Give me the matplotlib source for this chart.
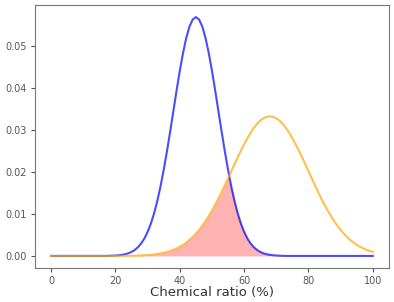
import matplotlib
matplotlib.use("Agg")
from matplotlib import pyplot as plt
import numpy as np

# chemical ratio (%) at 1 unit steps
ratio = list(range(0, 101))

# density of the first group (blue)
density_a = [
    0.0, 0.0, 0.0, 0.0, 0.0, 0.0, 0.0, 0.0, 0.0, 0.0,
    0.0, 0.0, 0.0, 0.0, 0.0, 0.0, 0.0, 0.0, 0.00003, 0.00006,
    0.00010, 0.00016, 0.00026, 0.00041, 0.00063, 0.00096, 0.00143, 0.00209, 0.00299, 0.00418,
    0.00574, 0.00771, 0.01016, 0.01311, 0.01658, 0.02055, 0.02494, 0.02967, 0.03457, 0.03948,
    0.04417, 0.04841, 0.05200, 0.05472, 0.05642, 0.05700, 0.05642, 0.05472, 0.05200, 0.04841,
    0.04417, 0.03948, 0.03457, 0.02967, 0.02494, 0.02055, 0.01658, 0.01311, 0.01016, 0.00771,
    0.00574, 0.00418, 0.00299, 0.00209, 0.00143, 0.00096, 0.00063, 0.00041, 0.00026, 0.00016,
    0.00010, 0.00006, 0.00003, 0.0, 0.0, 0.0, 0.0, 0.0, 0.0, 0.0,
    0.0, 0.0, 0.0, 0.0, 0.0, 0.0, 0.0, 0.0, 0.0, 0.0,
    0.0, 0.0, 0.0, 0.0, 0.0, 0.0, 0.0, 0.0, 0.0, 0.0,
    0.0,
]

# density of the second group (orange)
density_b = [
    0.0, 0.0, 0.0, 0.0, 0.0, 0.0, 0.0, 0.0, 0.0, 0.0,
    0.0, 0.0, 0.0, 0.0, 0.0, 0.0, 0.0, 0.0, 0.0, 0.0,
    0.00001, 0.00002, 0.00002, 0.00003, 0.00004, 0.00005, 0.00007, 0.00010, 0.00013, 0.00017,
    0.00022, 0.00029, 0.00037, 0.00047, 0.00060, 0.00076, 0.00095, 0.00118, 0.00146, 0.00180,
    0.00219, 0.00265, 0.00318, 0.00380, 0.00451, 0.00530, 0.00620, 0.00720, 0.00830, 0.00951,
    0.01081, 0.01221, 0.01369, 0.01525, 0.01686, 0.01852, 0.02020, 0.02188, 0.02353, 0.02514,
    0.02666, 0.02809, 0.02939, 0.03053, 0.03150, 0.03228, 0.03284, 0.03318, 0.03330, 0.03318,
    0.03284, 0.03228, 0.03150, 0.03053, 0.02939, 0.02809, 0.02666, 0.02514, 0.02353, 0.02188,
    0.02020, 0.01852, 0.01686, 0.01525, 0.01369, 0.01221, 0.01081, 0.00951, 0.00830, 0.00720,
    0.00620, 0.00530, 0.00451, 0.00380, 0.00318, 0.00265, 0.00219, 0.00180, 0.00146, 0.00118,
    0.00095,
]

fig = plt.figure(figsize=(3.94, 3.02), dpi=100)
ax = fig.add_axes([0.089, 0.113, 0.898, 0.870])

ax.plot(ratio, density_a, color='blue', alpha=0.7, linewidth=1.5)
ax.plot(ratio, density_b, color='orange', alpha=0.7, linewidth=1.5)

# overlap of the two curves
overlap = np.minimum(density_a, density_b)
ax.fill_between(ratio, 0, overlap, color='red', alpha=0.3, linewidth=0)

ax.set_xlabel('Chemical ratio (%)', fontsize=9.5, labelpad=0, color='#333333')
ax.set_xticks([0, 20, 40, 60, 80, 100])
ax.set_yticks([0.0, 0.01, 0.02, 0.03, 0.04, 0.05])
ax.tick_params(labelsize=7, colors='#555555', length=3, pad=3)
for s in ax.spines.values():
    s.set_color('#777777')

fig.savefig('out.png', dpi=100)
